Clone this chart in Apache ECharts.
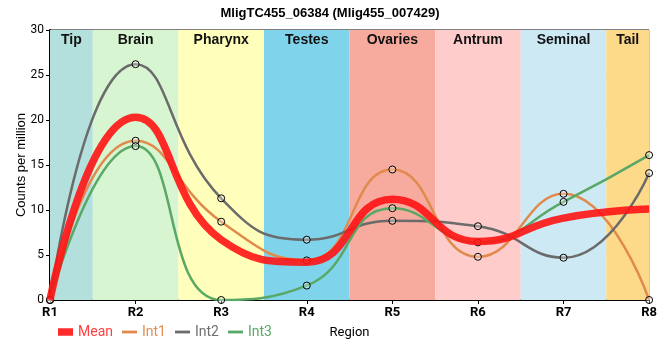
<!DOCTYPE html>
<html><head><meta charset="utf-8">
<script src="https://cdn.jsdelivr.net/npm/echarts@6/dist/echarts.min.js"></script>
<style>html,body{margin:0;padding:0;background:#fff}#c{width:660px;height:360px}</style>
</head><body><div id="c"></div>
<script>
const categories = ['R1','R2','R3','R4','R5','R6','R7','R8'];
const mean = [0, 20.3, 6.7, 4.2, 11.2, 6.5, 9.1, 10.1];
const int1 = [0, 17.7, 8.7, 4.4, 14.5, 4.8, 11.8, 0];
const int2 = [0, 26.2, 11.3, 6.7, 8.8, 8.2, 4.7, 14.1];
const int3 = [0, 17.1, 0, 1.6, 10.2, 6.4, 10.9, 16.1];
const bandNames = ['Tip','Brain','Pharynx','Testes','Ovaries','Antrum','Seminal','Tail'];
const bandEdges = [0, 0.5, 1.5, 2.5, 3.5, 4.5, 5.5, 6.5, 7];
const bandColors = ['#b3e0dc','#d7f5d1','#ffffbb','#7fd4ec','#f6ab9e','#ffcccc','#cdeaf4','#fdd98a'];
const yTicks = [0, 5, 10, 15, 20, 25, 30];

const toXY = arr => arr.map((v, i) => [i, v]);
const marker = {symbol: 'circle', symbolSize: 7};
const dotStyle = () => ({color: 'rgba(255,255,255,0.3)', borderColor: '#000', borderWidth: 1});
const thinIcon = 'path://M0,0L16,0L16,3L0,3Z';
const thickIcon = 'path://M0,0L16,0L16,8L0,8Z';

const chart = echarts.init(document.getElementById('c'));
chart.setOption({
  animation: false,
  title: {text: 'MligTC455_06384 (Mlig455_007429)', left: 'center', top: 2,
    textStyle: {fontFamily: 'Arial, Liberation Sans', fontSize: 13, fontWeight: 'bold', color: '#000'}},
  grid: {left: 50, right: 9, top: 30, bottom: 60, show: true, borderColor: '#000', borderWidth: 1, backgroundColor: 'transparent'},
  legend: {left: 53, bottom: 16, itemGap: 9, itemWidth: 15, itemHeight: 8,
    textStyle: {fontFamily: 'Roboto', fontSize: 14},
    data: [
      {name: 'Mean', icon: thickIcon, itemStyle: {color: '#ff2a2a', borderWidth: 0}, textStyle: {color: '#ff4040'}},
      {name: 'Int1', icon: thinIcon, itemStyle: {color: '#e08a4c', borderWidth: 0}, textStyle: {color: '#e39055'}},
      {name: 'Int2', icon: thinIcon, itemStyle: {color: '#6b6b6b', borderWidth: 0}, textStyle: {color: '#707070'}},
      {name: 'Int3', icon: thinIcon, itemStyle: {color: '#5aa866', borderWidth: 0}, textStyle: {color: '#5aa866'}}
    ]},
  xAxis: {type: 'value', min: 0, max: 7, interval: 1,
    name: 'Region', nameLocation: 'middle', nameGap: 26,
    nameTextStyle: {fontFamily: 'Roboto', fontSize: 13, color: '#000'},
    axisLine: {lineStyle: {color: '#000', width: 2}},
    axisTick: {show: true, length: 4, lineStyle: {color: '#000'}},
    axisLabel: {formatter: v => categories[v] || '', fontFamily: 'Roboto', fontWeight: 'bold', fontSize: 13, color: '#000', margin: 6},
    splitLine: {show: true, lineStyle: {color: '#c8c8c8'}}},
  yAxis: {type: 'value', min: yTicks[0], max: yTicks[yTicks.length-1], interval: 5,
    name: 'Counts per million', nameLocation: 'middle', nameGap: 22, nameMoveOverlap: false,
    nameTextStyle: {fontFamily: 'Arial, Liberation Sans', fontSize: 13, color: '#000'},
    axisLine: {show: true, lineStyle: {color: '#000', width: 2}},
    axisTick: {show: true, length: 4, lineStyle: {color: '#000'}},
    axisLabel: {fontFamily: 'Roboto', fontSize: 12, color: '#000', margin: 6},
    splitLine: {show: true, lineStyle: {color: '#c8c8c8'}}},
  series: [
    {name: 'bands', type: 'line', data: [], silent: true,
      markArea: {silent: true,
        data: bandNames.map((n, i) => [
          {xAxis: bandEdges[i], itemStyle: {color: bandColors[i]},
           label: {show: true, position: 'insideTop', distance: 3, formatter: n,
             fontFamily: 'Arial, Liberation Sans', fontSize: 14, fontWeight: 'bold', color: '#111'}},
          {xAxis: bandEdges[i+1]}
        ])}},
    {name: 'Int1', type: 'line', smooth: 0.5, data: toXY(int1), ...marker, z: 3,
      itemStyle: dotStyle(), lineStyle: {color: '#e08a4c', width: 2.5}},
    {name: 'Int2', type: 'line', smooth: 0.5, data: toXY(int2), ...marker, z: 3,
      itemStyle: dotStyle(), lineStyle: {color: '#6b6b6b', width: 2.5}},
    {name: 'Int3', type: 'line', smooth: 0.5, data: toXY(int3), ...marker, z: 3,
      itemStyle: dotStyle(), lineStyle: {color: '#5aa866', width: 2.5}},
    {name: 'Mean', type: 'line', smooth: 0.5, data: toXY(mean), showSymbol: false, symbol: 'none', z: 4,
      itemStyle: {color: '#ff2222'},
      lineStyle: {color: 'rgba(255,20,20,0.9)', width: 7.5}}
  ]
});
</script></body></html>
